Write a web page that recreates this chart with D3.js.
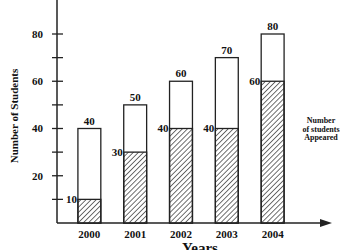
<!DOCTYPE html>
<head>
  <meta charset="utf-8">
  <script src="https://d3js.org/d3.v7.min.js"></script>
  <style>
    body { margin: 0; background: #fff; }
    text { font-family: "Liberation Serif", "DejaVu Serif", serif; font-weight: bold; fill: #111; }
  </style>
</head>
<body>
  <script>
    // chart data
    var years = ['2000', '2001', '2002', '2003', '2004'];
    var appeared = [40, 50, 60, 70, 80];
    var passed = [10, 30, 40, 40, 60];
    var yTicks = [10, 20, 30, 40, 50, 60, 70, 80];
    var yTickLabels = [20, 40, 60, 80];

    var outerWidth = 348, outerHeight = 250;

    var svg = d3.select('body').append('svg')
      .attr('width', outerWidth)
      .attr('height', outerHeight);

    // hatch pattern for the inner bars
    var pat = svg.append('defs').append('pattern')
      .attr('id', 'hatch')
      .attr('patternUnits', 'userSpaceOnUse')
      .attr('width', 3.6).attr('height', 3.6)
      .attr('patternTransform', 'rotate(45)');
    pat.append('line')
      .attr('x1', 0).attr('y1', 0).attr('x2', 0).attr('y2', 3.6)
      .attr('stroke', '#222').attr('stroke-width', 1.3);

    var xScale = d3.scaleBand()
      .domain(years)
      .range([55, 307])
      .paddingInner(0.5)
      .paddingOuter(0.5);

    var yScale = d3.scaleLinear()
      .domain([0, 80])
      .range([223, 34]);

    var axisX = 57;

    // y axis line
    svg.append('line')
      .attr('x1', axisX).attr('x2', axisX)
      .attr('y1', 0).attr('y2', yScale(0))
      .attr('stroke', '#222').attr('stroke-width', 1.5);

    // ticks crossing the axis
    svg.selectAll('.ytick').data(yTicks).enter().append('line')
      .attr('x1', axisX - 5).attr('x2', axisX + 6)
      .attr('y1', function(d) { return yScale(d); })
      .attr('y2', function(d) { return yScale(d); })
      .attr('stroke', '#222').attr('stroke-width', 1.3);

    svg.selectAll('.ylab').data(yTickLabels).enter().append('text')
      .attr('x', 43)
      .attr('y', function(d) { return yScale(d); })
      .attr('dy', '0.35em')
      .attr('text-anchor', 'end')
      .attr('font-size', 11)
      .text(function(d) { return d; });

    // x axis with arrow
    svg.append('line')
      .attr('x1', axisX).attr('x2', 326)
      .attr('y1', yScale(0)).attr('y2', yScale(0))
      .attr('stroke', '#222').attr('stroke-width', 1.5);
    svg.append('path')
      .attr('d', 'M320,219 L332,' + yScale(0) + ' L320,227 Z')
      .attr('fill', '#222');

    // outer bars (appeared)
    svg.selectAll('.outer').data(years).enter().append('rect')
      .attr('x', function(d) { return xScale(d); })
      .attr('y', function(d, i) { return yScale(appeared[i]); })
      .attr('width', xScale.bandwidth())
      .attr('height', function(d, i) { return yScale(0) - yScale(appeared[i]); })
      .attr('fill', '#fff')
      .attr('stroke', '#222').attr('stroke-width', 1.3);

    // hatched bars (passed)
    svg.selectAll('.inner').data(years).enter().append('rect')
      .attr('x', function(d) { return xScale(d); })
      .attr('y', function(d, i) { return yScale(passed[i]); })
      .attr('width', xScale.bandwidth())
      .attr('height', function(d, i) { return yScale(0) - yScale(passed[i]); })
      .attr('fill', 'url(#hatch)')
      .attr('stroke', '#222').attr('stroke-width', 1.3);

    // value labels
    svg.selectAll('.toplab').data(years).enter().append('text')
      .attr('x', function(d) { return xScale(d) + xScale.bandwidth() / 2; })
      .attr('y', function(d, i) { return yScale(appeared[i]) - 4; })
      .attr('text-anchor', 'middle')
      .attr('font-size', 11)
      .text(function(d, i) { return appeared[i]; });

    svg.selectAll('.inlab').data(years).enter().append('text')
      .attr('x', function(d) { return xScale(d) - 1; })
      .attr('y', function(d, i) { return yScale(passed[i]); })
      .attr('dy', '0.35em')
      .attr('text-anchor', 'end')
      .attr('font-size', 11)
      .text(function(d, i) { return passed[i]; });

    // year labels
    svg.selectAll('.xlab').data(years).enter().append('text')
      .attr('x', function(d) { return xScale(d) + xScale.bandwidth() / 2; })
      .attr('y', 238)
      .attr('text-anchor', 'middle')
      .attr('font-size', 11)
      .text(function(d) { return d; });

    // axis titles
    svg.append('text')
      .attr('x', 200).attr('y', 253)
      .attr('text-anchor', 'middle')
      .attr('font-size', 15)
      .text('Years');

    svg.append('text')
      .attr('transform', 'translate(18,116) rotate(-90)')
      .attr('text-anchor', 'middle')
      .attr('font-size', 11)
      .text('Number of Students');

    // legend note
    var note = ['Number', 'of students', 'Appeared'];
    svg.selectAll('.note').data(note).enter().append('text')
      .attr('x', 321)
      .attr('y', function(d, i) { return 123 + i * 8.5; })
      .attr('text-anchor', 'middle')
      .attr('font-size', 8)
      .text(function(d) { return d; });
  </script>
</body>
